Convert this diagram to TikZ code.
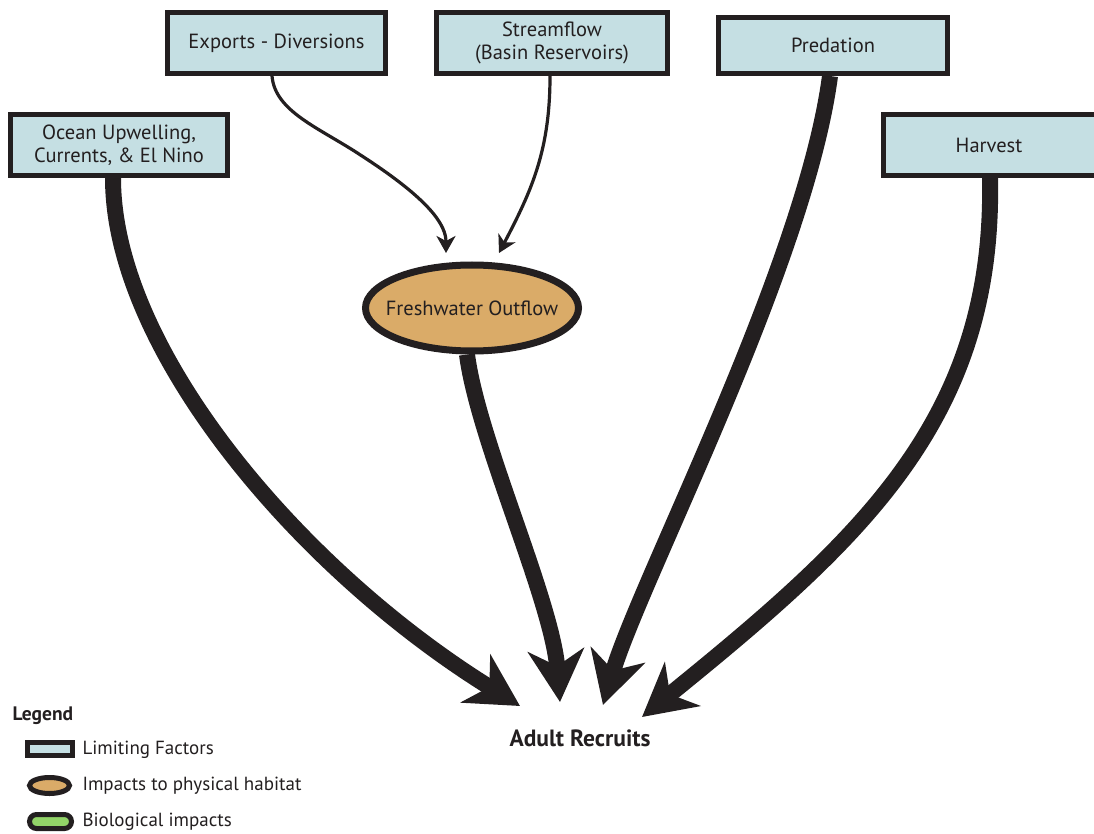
\documentclass[tikz,border=0pt]{standalone}
\usepackage{fontspec}
\setmainfont{PT Sans}
\usetikzlibrary{shapes.geometric, arrows.meta}
\definecolor{inkdark}{RGB}{35, 31, 32}
\definecolor{factorblue}{RGB}{197, 223, 227}
\definecolor{habitattan}{RGB}{218, 171, 104}
\definecolor{biogreen}{RGB}{146, 212, 104}
\tikzset{
  factorbox/.style={draw=inkdark, line width=5pt, fill=factorblue, inner sep=0pt, align=center, font=\fontsize{20.5}{23}\selectfont, text=inkdark},
  habitatoval/.style={draw=inkdark, ellipse, line width=7pt, fill=habitattan, inner sep=0pt},
  boxtext/.style={font=\fontsize{20.5}{23}\selectfont, text=inkdark},
  bigarrow/.style={draw=inkdark, line width=16pt, -{Stealth[length=52pt, width=56pt, inset=16pt]}},
  thinarrow/.style={draw=inkdark, line width=3.2pt, -{Stealth[length=17pt, width=19pt, inset=5pt]}},
  legendtext/.style={anchor=west, font=\fontsize{19}{22}\selectfont, text=inkdark}
}
\begin{document}
\begin{tikzpicture}[x=1pt, y=-1pt]
  \useasboundingbox (0,0) rectangle (1094,834);

  % Limiting factors
  \node[factorbox, minimum width=218pt, minimum height=61pt] (exports) at (276.5, 43) {Exports - Diversions};
  \node[factorbox, minimum width=231pt, minimum height=61pt] (stream) at (552, 43) {Streamflow\\(Basin Reservoirs)};
  \node[factorbox, minimum width=229pt, minimum height=56pt] (pred) at (833, 45.5) {Predation};
  \node[factorbox, minimum width=217pt, minimum height=61pt] (ocean) at (119, 145) {Ocean Upwelling,\\Currents, \& El Nino};
  \node[factorbox, minimum width=240pt, minimum height=61pt] (harvest) at (1003, 145) {\hspace*{-28pt}Harvest};

  % Physical habitat
  \node[habitatoval, minimum width=213pt, minimum height=86pt,
        label={[boxtext]center:Freshwater Outflow}] (outflow) at (472, 308) {};

  % Outcome
  \node[font=\fontsize{23.5}{26}\selectfont\bfseries, text=inkdark] (recruits) at (580, 738) {Adult Recruits};
  \coordinate (tipA) at (520, 706);
  \coordinate (tipB) at (560, 702);
  \coordinate (tipC) at (603, 705);
  \coordinate (tipD) at (642, 717);

  % Thin arrows into the outflow
  \draw[thinarrow] (272, 76) .. controls (275, 112) and (320, 128) .. (362, 156) .. controls (430, 200) and (446, 225) .. (446, 253);
  \draw[thinarrow] (550, 76) .. controls (550, 150) and (532, 190) .. (499, 253);

  % Thick arrows into the recruits
  \draw[bigarrow] (ocean.south) ++(-6, 0) .. controls (113, 350) and (300, 570) .. (tipA);
  \draw[bigarrow] (outflow.south) ++(-5, 0) .. controls (478, 440) and (552, 600) .. (tipB);
  \draw[bigarrow] (pred.south) ++(-3, 0) .. controls (805, 265) and (640, 580) .. (tipC);
  \draw[bigarrow] (harvest.south) ++(-13, 0) .. controls (995, 420) and (860, 540) .. (tipD);

  % Legend
  \node[anchor=west, font=\fontsize{19.5}{22}\selectfont\bfseries, text=inkdark] (legend) at (9, 716) {Legend};
  \node[draw=inkdark, line width=5pt, fill=factorblue, minimum width=45pt, minimum height=13pt, inner sep=0pt] (keyA) at (50, 749) {};
  \node[draw=inkdark, ellipse, line width=5pt, fill=habitattan, minimum width=40pt, minimum height=16pt, inner sep=0pt] (keyB) at (49.5, 785.5) {};
  \node[draw=inkdark, rounded corners=7pt, line width=5pt, fill=biogreen, minimum width=42pt, minimum height=14pt, inner sep=0pt] (keyC) at (50.5, 821.5) {};
  \node[legendtext] (labA) at (79, 750) {Limiting Factors};
  \node[legendtext] (labB) at (79, 786) {Impacts to physical habitat};
  \node[legendtext] (labC) at (79, 822) {Biological impacts};
\end{tikzpicture}
\end{document}
